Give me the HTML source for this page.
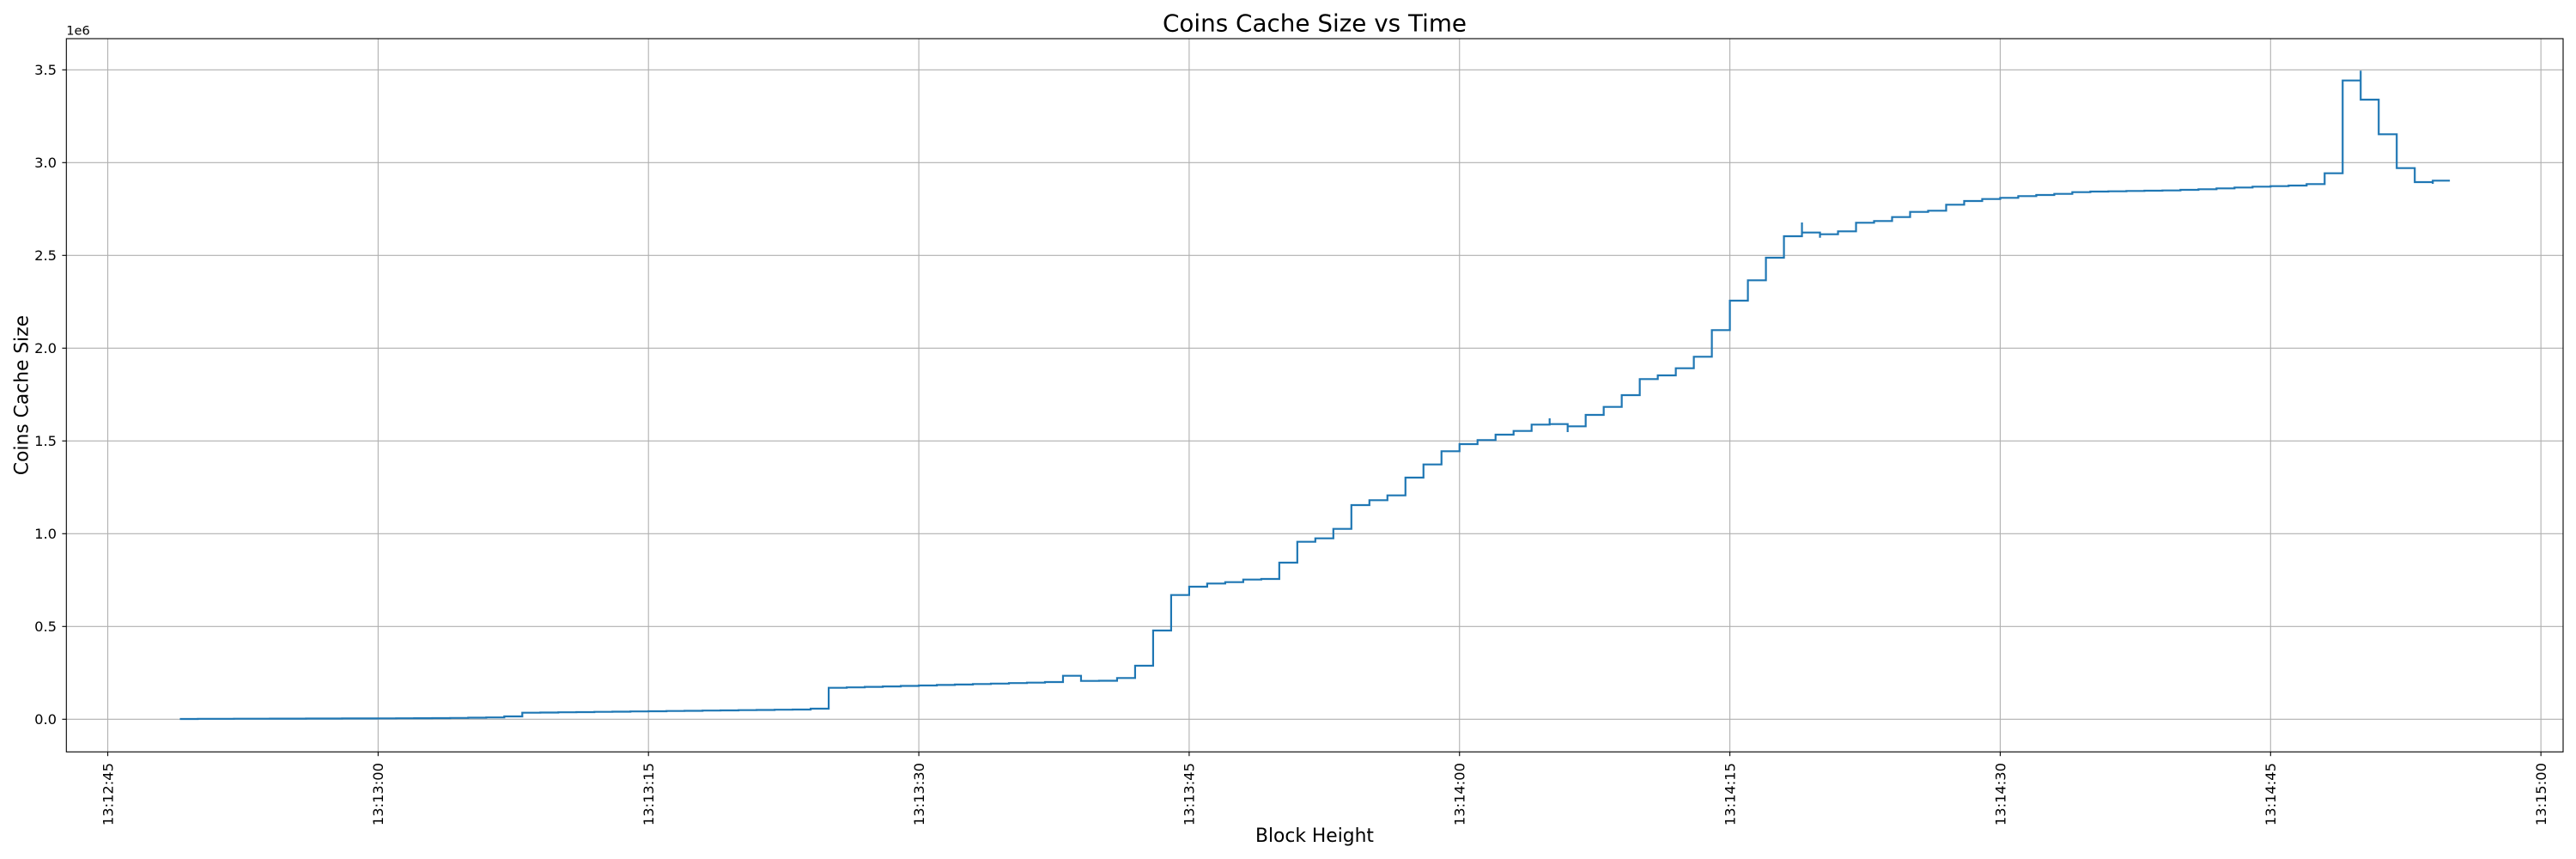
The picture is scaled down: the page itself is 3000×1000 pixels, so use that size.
<!DOCTYPE html>
<html><head><meta charset="utf-8"><style>
html,body{margin:0;padding:0;background:#fff;}
svg{display:block;font-family:"DejaVu Sans","Liberation Sans",sans-serif;}
</style></head><body>
<svg width="3000" height="1000" viewBox="0 0 3000 1000" xmlns="http://www.w3.org/2000/svg">
<rect width="3000" height="1000" fill="#fff"/>
<g stroke="#b0b0b0" stroke-width="1.1">
<line x1="125.5" y1="45" x2="125.5" y2="875.3"/>
<line x1="440.35" y1="45" x2="440.35" y2="875.3"/>
<line x1="755.2" y1="45" x2="755.2" y2="875.3"/>
<line x1="1070.05" y1="45" x2="1070.05" y2="875.3"/>
<line x1="1384.9" y1="45" x2="1384.9" y2="875.3"/>
<line x1="1699.75" y1="45" x2="1699.75" y2="875.3"/>
<line x1="2014.6" y1="45" x2="2014.6" y2="875.3"/>
<line x1="2329.45" y1="45" x2="2329.45" y2="875.3"/>
<line x1="2644.3" y1="45" x2="2644.3" y2="875.3"/>
<line x1="2959.15" y1="45" x2="2959.15" y2="875.3"/>
<line x1="77.3" y1="837.3" x2="2985" y2="837.3"/>
<line x1="77.3" y1="729.3" x2="2985" y2="729.3"/>
<line x1="77.3" y1="621.3" x2="2985" y2="621.3"/>
<line x1="77.3" y1="513.3" x2="2985" y2="513.3"/>
<line x1="77.3" y1="405.3" x2="2985" y2="405.3"/>
<line x1="77.3" y1="297.3" x2="2985" y2="297.3"/>
<line x1="77.3" y1="189.3" x2="2985" y2="189.3"/>
<line x1="77.3" y1="81.3" x2="2985" y2="81.3"/>
</g>
<path fill="none" stroke="#1f77b4" stroke-width="2.2" stroke-linejoin="miter" d="M209.46,837 h20.99
V836.8 h20.99 V836.8 h20.99 V836.7 h20.99 V836.7 h20.99 V836.6 h20.99 V836.6 h20.99 V836.5 h20.99 V836.5 h20.99 V836.4 h20.99 V836.4 h20.99 V836.3 h20.99 V836.2 h20.99 V836.1 h20.99 V836 h20.99 V835.8 h20.99 V835.5 h20.99 V835.2 h20.99 V834 h20.99
V829.7 h20.99 V829.5 h20.99 V829.2 h20.99 V829 h20.99 V828.7 h20.99 V828.5 h20.99 V828.2 h20.99 V828 h20.99 V827.7 h20.99 V827.5 h20.99 V827.2 h20.99 V827 h20.99 V826.7 h20.99 V826.5 h20.99 V826.2 h20.99 V826 h20.99 V825 h20.99
V800.7 h20.99 V800.2 h20.99 V799.6 h20.99 V799.1 h20.99 V798.5 h20.99 V798 h20.99 V797.4 h20.99 V796.9 h20.99 V796.3 h20.99 V795.8 h20.99 V795.2 h20.99 V794.7 h20.99 V794 h20.99 V786.7 h20.99 V792.7 h20.99 V792.5 h20.99
V789.3 h20.99 V775 h20.99 V734 h20.99 V692.7 h20.99 V683 h20.99 V679.3 h20.99 V677.7 h20.99 V674.7 h20.99 V674 h20.99 V655 h20.99 V630.7 h20.99 V626.7 h20.99 V615.7 h20.99 V588 h20.99 V582.3 h20.99 V576.7 h20.99 V556 h20.99 V540.7 h20.99 V525.3 h20.99 V517 h20.99 V512.3 h20.99 V506 h20.99 V501.7 h20.99
V494.3 h20.99 V487 V493.7 h20.99 V503 V496.3 h20.99 V483 h20.99 V473.7 h20.99 V460 h20.99 V441.3 h20.99 V437 h20.99 V428.7 h20.99 V415.3 h20.99
V384.3 h20.99 V350 h20.99 V326.3 h20.99 V300 h20.99 V275 h20.99 V259 V270.7 h20.99 V276.7 V272.7 h20.99 V269.3 h20.99 V259.3 h20.99 V257.3 h20.99 V252.7 h20.99 V246.7 h20.99 V245.3 h20.99 V238.3 h20.99 V234 h20.99 V231.7 h20.99 V230.3 h20.99 V228.3 h20.99 V227 h20.99 V225.7 h20.99 V223.7 h20.99 V223 h20.99 V222.7 h20.99 V222.3 h20.99 V222 h20.99 V221.7 h20.99 V221 h20.99 V220.3 h20.99 V219.3 h20.99 V218.3 h20.99 V217.3 h20.99 V216.7 h20.99 V216 h20.99 V214.3 h20.99 V201.7 h20.99
V93.7 h20.99 V82.3 V116 h20.99 V156.3 h20.99 V195.7 h20.99 V212 h20.99 V214 V210.3 h19.9"/>
<rect x="77.3" y="45" width="2907.7" height="830.3" fill="none" stroke="#000" stroke-width="1.1"/>
<g stroke="#000" stroke-width="1.1">
<line x1="72.4" y1="837.3" x2="77.3" y2="837.3"/>
<line x1="72.4" y1="729.3" x2="77.3" y2="729.3"/>
<line x1="72.4" y1="621.3" x2="77.3" y2="621.3"/>
<line x1="72.4" y1="513.3" x2="77.3" y2="513.3"/>
<line x1="72.4" y1="405.3" x2="77.3" y2="405.3"/>
<line x1="72.4" y1="297.3" x2="77.3" y2="297.3"/>
<line x1="72.4" y1="189.3" x2="77.3" y2="189.3"/>
<line x1="72.4" y1="81.3" x2="77.3" y2="81.3"/>
<line x1="125.5" y1="875.3" x2="125.5" y2="880.2"/>
<line x1="440.35" y1="875.3" x2="440.35" y2="880.2"/>
<line x1="755.2" y1="875.3" x2="755.2" y2="880.2"/>
<line x1="1070.05" y1="875.3" x2="1070.05" y2="880.2"/>
<line x1="1384.9" y1="875.3" x2="1384.9" y2="880.2"/>
<line x1="1699.75" y1="875.3" x2="1699.75" y2="880.2"/>
<line x1="2014.6" y1="875.3" x2="2014.6" y2="880.2"/>
<line x1="2329.45" y1="875.3" x2="2329.45" y2="880.2"/>
<line x1="2644.3" y1="875.3" x2="2644.3" y2="880.2"/>
<line x1="2959.15" y1="875.3" x2="2959.15" y2="880.2"/>
</g>
<g font-size="16.3" fill="#000" text-anchor="end">
<text x="66" y="843.2">0.0</text>
<text x="66" y="735.2">0.5</text>
<text x="66" y="627.2">1.0</text>
<text x="66" y="519.2">1.5</text>
<text x="66" y="411.2">2.0</text>
<text x="66" y="303.2">2.5</text>
<text x="66" y="195.2">3.0</text>
<text x="66" y="87.2">3.5</text>
</g>
<text x="77.3" y="40.5" font-size="14.5">1e6</text>
<g font-size="16.3" fill="#000" text-anchor="end">
<text transform="translate(131.3,888) rotate(-90)">13:12:45</text>
<text transform="translate(446.15,888) rotate(-90)">13:13:00</text>
<text transform="translate(761,888) rotate(-90)">13:13:15</text>
<text transform="translate(1075.85,888) rotate(-90)">13:13:30</text>
<text transform="translate(1390.7,888) rotate(-90)">13:13:45</text>
<text transform="translate(1705.55,888) rotate(-90)">13:14:00</text>
<text transform="translate(2020.4,888) rotate(-90)">13:14:15</text>
<text transform="translate(2335.25,888) rotate(-90)">13:14:30</text>
<text transform="translate(2650.1,888) rotate(-90)">13:14:45</text>
<text transform="translate(2964.95,888) rotate(-90)">13:15:00</text>
</g>
<text x="1531" y="36.7" font-size="27.8" text-anchor="middle">Coins Cache Size vs Time</text>
<text x="1531" y="980" font-size="21.8" text-anchor="middle">Block Height</text>
<text transform="translate(32.5,460) rotate(-90)" font-size="21.8" text-anchor="middle">Coins Cache Size</text>
</svg>
</body></html>
